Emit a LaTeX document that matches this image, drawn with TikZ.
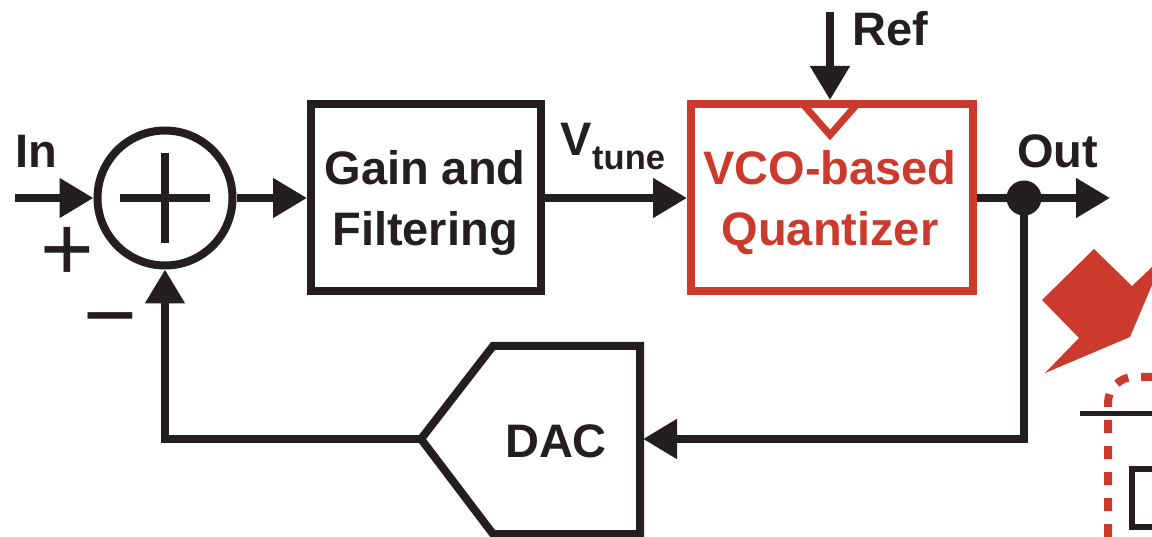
\documentclass[tikz,border=0pt]{standalone}
\usepackage{fontspec}
\setmainfont{Liberation Sans}
\usepackage{xcolor}
\usepackage{tikz}
\usetikzlibrary{arrows.meta}

\definecolor{inkblack}{HTML}{231F20}
\definecolor{vcored}{HTML}{CB3A2C}
\tikzset{
	bigfont/.style={font=\fontsize{47}{61}\selectfont\bfseries},
	subfont/.style={font=\fontsize{34.5}{40}\selectfont\bfseries},
	signfont/.style={font=\fontsize{92}{92}\selectfont},
	blockbox/.style={draw,line width=8,inner sep=0,minimum height=187,align=center},
	sigline/.style={line width=8,color=inkblack,-{Triangle[length=34,width=38]}},
	label/.style={inner sep=0,text=inkblack,anchor=base west}
}

\begin{document}
\begin{tikzpicture}[x=1pt,y=-1pt,line join=miter]
\useasboundingbox (0,0) rectangle (1152,537);
\clip (0,0) rectangle (1152,537);

\node[draw=inkblack,circle,line width=8,inner sep=0,minimum size=135] (sum) at (165,198) {};
\node[blockbox,draw=inkblack,minimum width=230] (gain) at (426,198) {};
\node[blockbox,draw=vcored,minimum width=282] (vco) at (832,198) {};
\node[circle,fill=inkblack,inner sep=0,minimum size=35] (dot) at (1024,198) {};
\node[bigfont,text=inkblack,align=center,inner sep=0] (gaintext) at (425,203) {Gain and\\Filtering};
\node[bigfont,text=vcored,align=center,inner sep=0] (vcotext) at (830,203) {VCO-based\\Quantizer};

\coordinate (in) at (15,198);
\coordinate (ref) at (830,12);
\coordinate (refend) at (830,100);
\coordinate (out) at (1110,198);
\coordinate (dacin) at (643,439);
\coordinate (dactip) at (421,439);
\coordinate (fbright) at (1024,439);
\coordinate (fbleft) at (165,439);

% DAC
\draw[inkblack,line width=8] (dactip)--(493,346)--(640,346)--(640,534)--(493,534)--cycle;
\node[label,bigfont,anchor=center] (dac) at (556,441) {DAC};

% plus inside the adder
\draw[inkblack,line width=8] (120,198)--(210,198);
\draw[inkblack,line width=8] (165,153)--(165,243);

% clock mark
\draw[vcored,line width=7] (802,103)--(830,135)--(858,103);

\draw[sigline] (in)--(sum.west);
\draw[sigline] (sum.east)--(gain.west);
\draw[sigline] (gain.east)--(vco.west);
\draw[sigline] (ref)--(refend);
\draw[line width=8,inkblack] (vco.east)--(dot.center);
\draw[sigline] (dot.center)--(out);
\draw[sigline] (dot.center)--(fbright)--(dacin);
\draw[sigline] (dactip)--(fbleft)--(sum.south);

\node[label,bigfont] (inlabel) at (15,168) {In};
\node[label,signfont,anchor=center] (plus) at (67,254) {+};
\node[label,signfont,anchor=center] (minus) at (110,330) {−};
\node[label,bigfont] (vlabel) at (560,156) {V};
\node[label,subfont] (tune) at (592,170) {tune};
\node[label,bigfont] (reflabel) at (852,46) {Ref};
\node[label,bigfont] (outlabel) at (1017,168) {Out};

% quantizer detail at the edge
\fill[vcored] (1094,249)--(1042,300)--(1079,338)--(1045,373)--(1130,337)--(1152,285)--(1152,267)--(1132,286)--cycle;
\draw[vcored,line width=8,dash pattern=on 13 off 13] (1108,537)--(1108,403) arc[start angle=180,end angle=270,radius=26]--(1152,377);
\draw[inkblack,line width=5] (1080,414)--(1152,414);
\draw[inkblack,line width=5.5] (1160,469)--(1132,469)--(1132,527)--(1160,527);
\end{tikzpicture}
\end{document}
